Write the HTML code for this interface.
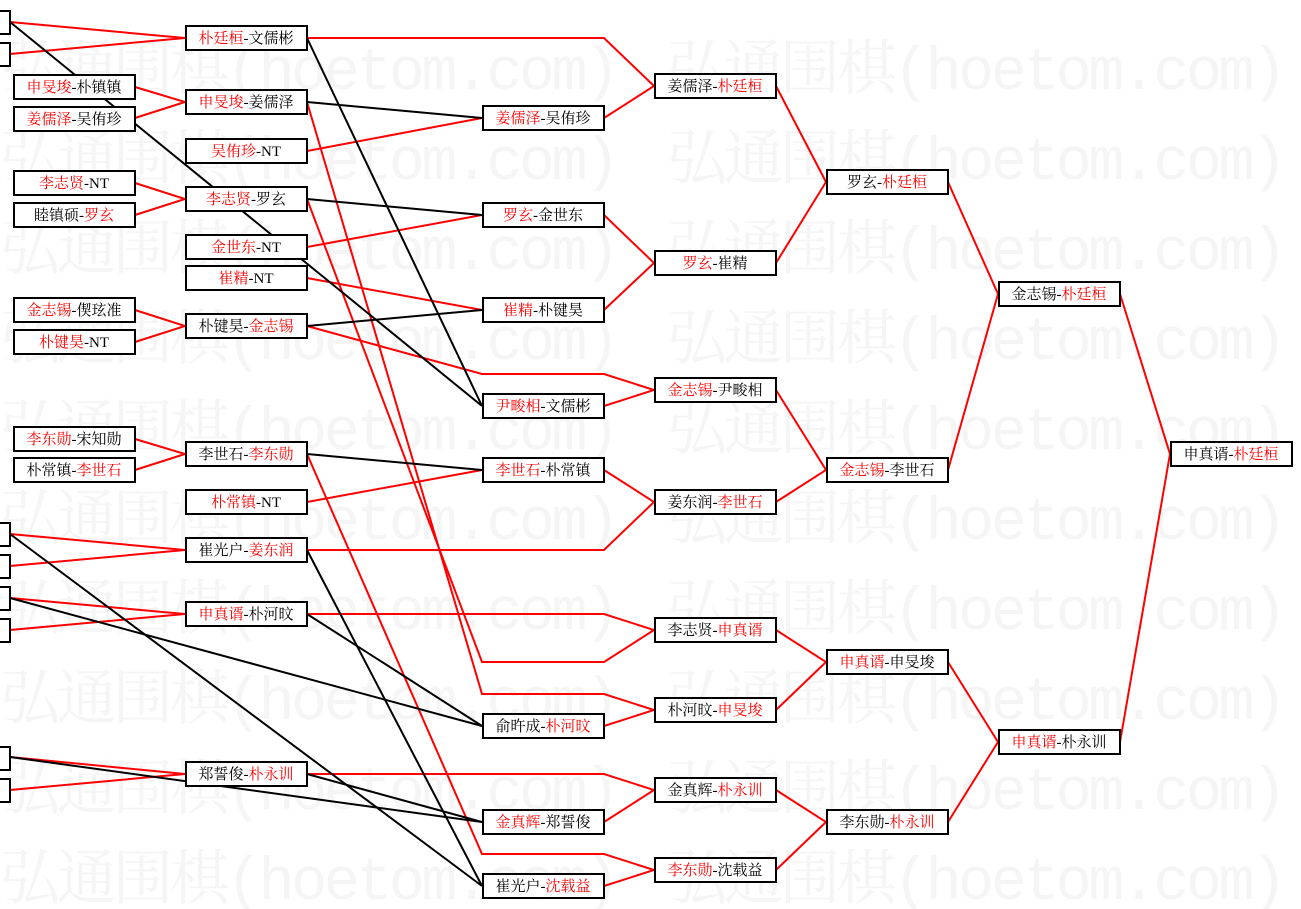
<!DOCTYPE html>
<html><head><meta charset="utf-8"><style>
html,body{margin:0;padding:0;background:#fff;width:1301px;height:909px;overflow:hidden}
svg{display:block}
.wm{font-family:"Liberation Mono","Noto Serif CJK SC",monospace;font-size:60px;fill:#f5f5f5}
.t{font-family:"Liberation Serif","Noto Serif CJK SC",serif;font-size:15px;fill:#000}
.r{fill:#f00}
</style></head><body>
<svg width="1301" height="909" xmlns="http://www.w3.org/2000/svg">
<g class="wm">
<text x="0" y="89" textLength="620">弘通围棋(hoetom.com)</text><text x="667" y="89" textLength="620">弘通围棋(hoetom.com)</text>
<text x="0" y="179" textLength="620">弘通围棋(hoetom.com)</text><text x="667" y="179" textLength="620">弘通围棋(hoetom.com)</text>
<text x="0" y="269" textLength="620">弘通围棋(hoetom.com)</text><text x="667" y="269" textLength="620">弘通围棋(hoetom.com)</text>
<text x="0" y="359" textLength="620">弘通围棋(hoetom.com)</text><text x="667" y="359" textLength="620">弘通围棋(hoetom.com)</text>
<text x="0" y="449" textLength="620">弘通围棋(hoetom.com)</text><text x="667" y="449" textLength="620">弘通围棋(hoetom.com)</text>
<text x="0" y="539" textLength="620">弘通围棋(hoetom.com)</text><text x="667" y="539" textLength="620">弘通围棋(hoetom.com)</text>
<text x="0" y="629" textLength="620">弘通围棋(hoetom.com)</text><text x="667" y="629" textLength="620">弘通围棋(hoetom.com)</text>
<text x="0" y="719" textLength="620">弘通围棋(hoetom.com)</text><text x="667" y="719" textLength="620">弘通围棋(hoetom.com)</text>
<text x="0" y="809" textLength="620">弘通围棋(hoetom.com)</text><text x="667" y="809" textLength="620">弘通围棋(hoetom.com)</text>
<text x="0" y="899" textLength="620">弘通围棋(hoetom.com)</text><text x="667" y="899" textLength="620">弘通围棋(hoetom.com)</text>
</g>
<g fill="none" stroke-width="2">
<g stroke="#f00">
<polyline points="10,22 185,38 10,54"/>
<polyline points="10,534 185,550 10,566"/>
<polyline points="10,598 185,614 10,630"/>
<polyline points="10,757 185,774 10,790"/>
<polyline points="135,87 185,102 135,118"/>
<polyline points="135,183 185,199 135,215"/>
<polyline points="135,310 185,326 135,342"/>
<polyline points="135,439 185,454 135,470"/>
<line x1="307" y1="151" x2="482" y2="118"/>
<line x1="307" y1="247" x2="482" y2="215"/>
<line x1="307" y1="278" x2="482" y2="310"/>
<line x1="307" y1="502" x2="482" y2="470"/>
<polyline points="307,38 604,38 654,86 604,118"/>
<polyline points="604,215 654,263 604,310"/>
<polyline points="307,326 482,374 604,374 654,390 604,406"/>
<polyline points="604,470 654,502 604,550 307,550"/>
<polyline points="307,614 604,614 654,630 604,662 482,662 307,199"/>
<polyline points="307,102 482,694 604,694 654,710 604,726"/>
<polyline points="307,774 604,774 654,790 604,822"/>
<polyline points="307,454 482,854 604,854 654,870 604,886"/>
<polyline points="776,86 826,182 776,263"/>
<polyline points="776,390 826,470 776,502"/>
<polyline points="776,630 826,662 776,710"/>
<polyline points="776,790 826,822 776,870"/>
<polyline points="948,182 998,294 948,470"/>
<polyline points="948,662 998,742 948,822"/>
<polyline points="1120,294 1170,454 1120,742"/>
</g>
<g stroke="#000">
<line x1="307" y1="102" x2="482" y2="118"/>
<line x1="307" y1="199" x2="482" y2="215"/>
<line x1="307" y1="326" x2="482" y2="310"/>
<line x1="307" y1="38" x2="482" y2="406"/>
<line x1="10" y1="22" x2="482" y2="406"/>
<line x1="307" y1="454" x2="482" y2="470"/>
<line x1="307" y1="614" x2="482" y2="726"/>
<line x1="10" y1="598" x2="482" y2="726"/>
<line x1="307" y1="774" x2="482" y2="822"/>
<line x1="10" y1="757" x2="482" y2="822"/>
<line x1="307" y1="550" x2="482" y2="886"/>
<line x1="10" y1="534" x2="482" y2="886"/>
</g>
</g>
<g fill="#fff" stroke="#000" stroke-width="2">
<rect x="-5" y="11" width="15" height="23"/><rect x="-5" y="43" width="15" height="23"/>
<rect x="-5" y="523" width="15" height="23"/><rect x="-5" y="555" width="15" height="23"/>
<rect x="-5" y="587" width="15" height="23"/><rect x="-5" y="619" width="15" height="23"/>
<rect x="-5" y="747" width="15" height="23"/><rect x="-5" y="779" width="15" height="23"/>
<rect x="14" y="75" width="121" height="24"/><rect x="14" y="107" width="121" height="24"/>
<rect x="14" y="171" width="121" height="24"/><rect x="14" y="203" width="121" height="24"/>
<rect x="14" y="298" width="121" height="24"/><rect x="14" y="330" width="121" height="24"/>
<rect x="14" y="427" width="121" height="24"/><rect x="14" y="458" width="121" height="24"/>
<rect x="186" y="26" width="121" height="24"/><rect x="186" y="90" width="121" height="24"/>
<rect x="186" y="139" width="121" height="24"/><rect x="186" y="187" width="121" height="24"/>
<rect x="186" y="235" width="121" height="24"/><rect x="186" y="266" width="121" height="24"/>
<rect x="186" y="314" width="121" height="24"/><rect x="186" y="442" width="121" height="24"/>
<rect x="186" y="490" width="121" height="24"/><rect x="186" y="538" width="121" height="24"/>
<rect x="186" y="602" width="121" height="24"/><rect x="186" y="762" width="121" height="24"/>
<rect x="483" y="106" width="121" height="24"/><rect x="483" y="203" width="121" height="24"/>
<rect x="483" y="298" width="121" height="24"/><rect x="483" y="394" width="121" height="24"/>
<rect x="483" y="458" width="121" height="24"/><rect x="483" y="714" width="121" height="24"/>
<rect x="483" y="810" width="121" height="24"/><rect x="483" y="874" width="121" height="24"/>
<rect x="655" y="74" width="121" height="24"/><rect x="655" y="251" width="121" height="24"/>
<rect x="655" y="378" width="121" height="24"/><rect x="655" y="490" width="121" height="24"/>
<rect x="655" y="618" width="121" height="24"/><rect x="655" y="698" width="121" height="24"/>
<rect x="655" y="778" width="121" height="24"/><rect x="655" y="858" width="121" height="24"/>
<rect x="827" y="170" width="121" height="24"/><rect x="827" y="458" width="121" height="24"/>
<rect x="827" y="650" width="121" height="24"/><rect x="827" y="810" width="121" height="24"/>
<rect x="999" y="282" width="121" height="24"/><rect x="999" y="730" width="121" height="24"/>
<rect x="1171" y="442" width="121" height="24"/>
</g>
<g class="t" text-anchor="middle">
<text x="74" y="92"><tspan class="r">申旻埈</tspan>-朴镇镇</text>
<text x="74" y="124"><tspan class="r">姜儒泽</tspan>-吴侑珍</text>
<text x="74" y="188"><tspan class="r">李志贤</tspan>-NT</text>
<text x="74" y="220">睦镇硕-<tspan class="r">罗玄</tspan></text>
<text x="74" y="315"><tspan class="r">金志锡</tspan>-偰玹准</text>
<text x="74" y="347"><tspan class="r">朴键昊</tspan>-NT</text>
<text x="74" y="444"><tspan class="r">李东勋</tspan>-宋知勋</text>
<text x="74" y="475">朴常镇-<tspan class="r">李世石</tspan></text>
<text x="246" y="43"><tspan class="r">朴廷桓</tspan>-文儒彬</text>
<text x="246" y="107"><tspan class="r">申旻埈</tspan>-姜儒泽</text>
<text x="246" y="156"><tspan class="r">吴侑珍</tspan>-NT</text>
<text x="246" y="204"><tspan class="r">李志贤</tspan>-罗玄</text>
<text x="246" y="252"><tspan class="r">金世东</tspan>-NT</text>
<text x="246" y="283"><tspan class="r">崔精</tspan>-NT</text>
<text x="246" y="331">朴键昊-<tspan class="r">金志锡</tspan></text>
<text x="246" y="459">李世石-<tspan class="r">李东勋</tspan></text>
<text x="246" y="507"><tspan class="r">朴常镇</tspan>-NT</text>
<text x="246" y="555">崔光户-<tspan class="r">姜东润</tspan></text>
<text x="246" y="619"><tspan class="r">申真谞</tspan>-朴河旼</text>
<text x="246" y="779">郑誓俊-<tspan class="r">朴永训</tspan></text>
<text x="543" y="123"><tspan class="r">姜儒泽</tspan>-吴侑珍</text>
<text x="543" y="220"><tspan class="r">罗玄</tspan>-金世东</text>
<text x="543" y="315"><tspan class="r">崔精</tspan>-朴键昊</text>
<text x="543" y="411"><tspan class="r">尹畯相</tspan>-文儒彬</text>
<text x="543" y="475"><tspan class="r">李世石</tspan>-朴常镇</text>
<text x="543" y="731">俞旿成-<tspan class="r">朴河旼</tspan></text>
<text x="543" y="827"><tspan class="r">金真辉</tspan>-郑誓俊</text>
<text x="543" y="891">崔光户-<tspan class="r">沈载益</tspan></text>
<text x="715" y="91">姜儒泽-<tspan class="r">朴廷桓</tspan></text>
<text x="715" y="268"><tspan class="r">罗玄</tspan>-崔精</text>
<text x="715" y="395"><tspan class="r">金志锡</tspan>-尹畯相</text>
<text x="715" y="507">姜东润-<tspan class="r">李世石</tspan></text>
<text x="715" y="635">李志贤-<tspan class="r">申真谞</tspan></text>
<text x="715" y="715">朴河旼-<tspan class="r">申旻埈</tspan></text>
<text x="715" y="795">金真辉-<tspan class="r">朴永训</tspan></text>
<text x="715" y="875"><tspan class="r">李东勋</tspan>-沈载益</text>
<text x="887" y="187">罗玄-<tspan class="r">朴廷桓</tspan></text>
<text x="887" y="475"><tspan class="r">金志锡</tspan>-李世石</text>
<text x="887" y="667"><tspan class="r">申真谞</tspan>-申旻埈</text>
<text x="887" y="827">李东勋-<tspan class="r">朴永训</tspan></text>
<text x="1059" y="299">金志锡-<tspan class="r">朴廷桓</tspan></text>
<text x="1059" y="747"><tspan class="r">申真谞</tspan>-朴永训</text>
<text x="1231" y="459">申真谞-<tspan class="r">朴廷桓</tspan></text>
</g>
</svg>
</body></html>
